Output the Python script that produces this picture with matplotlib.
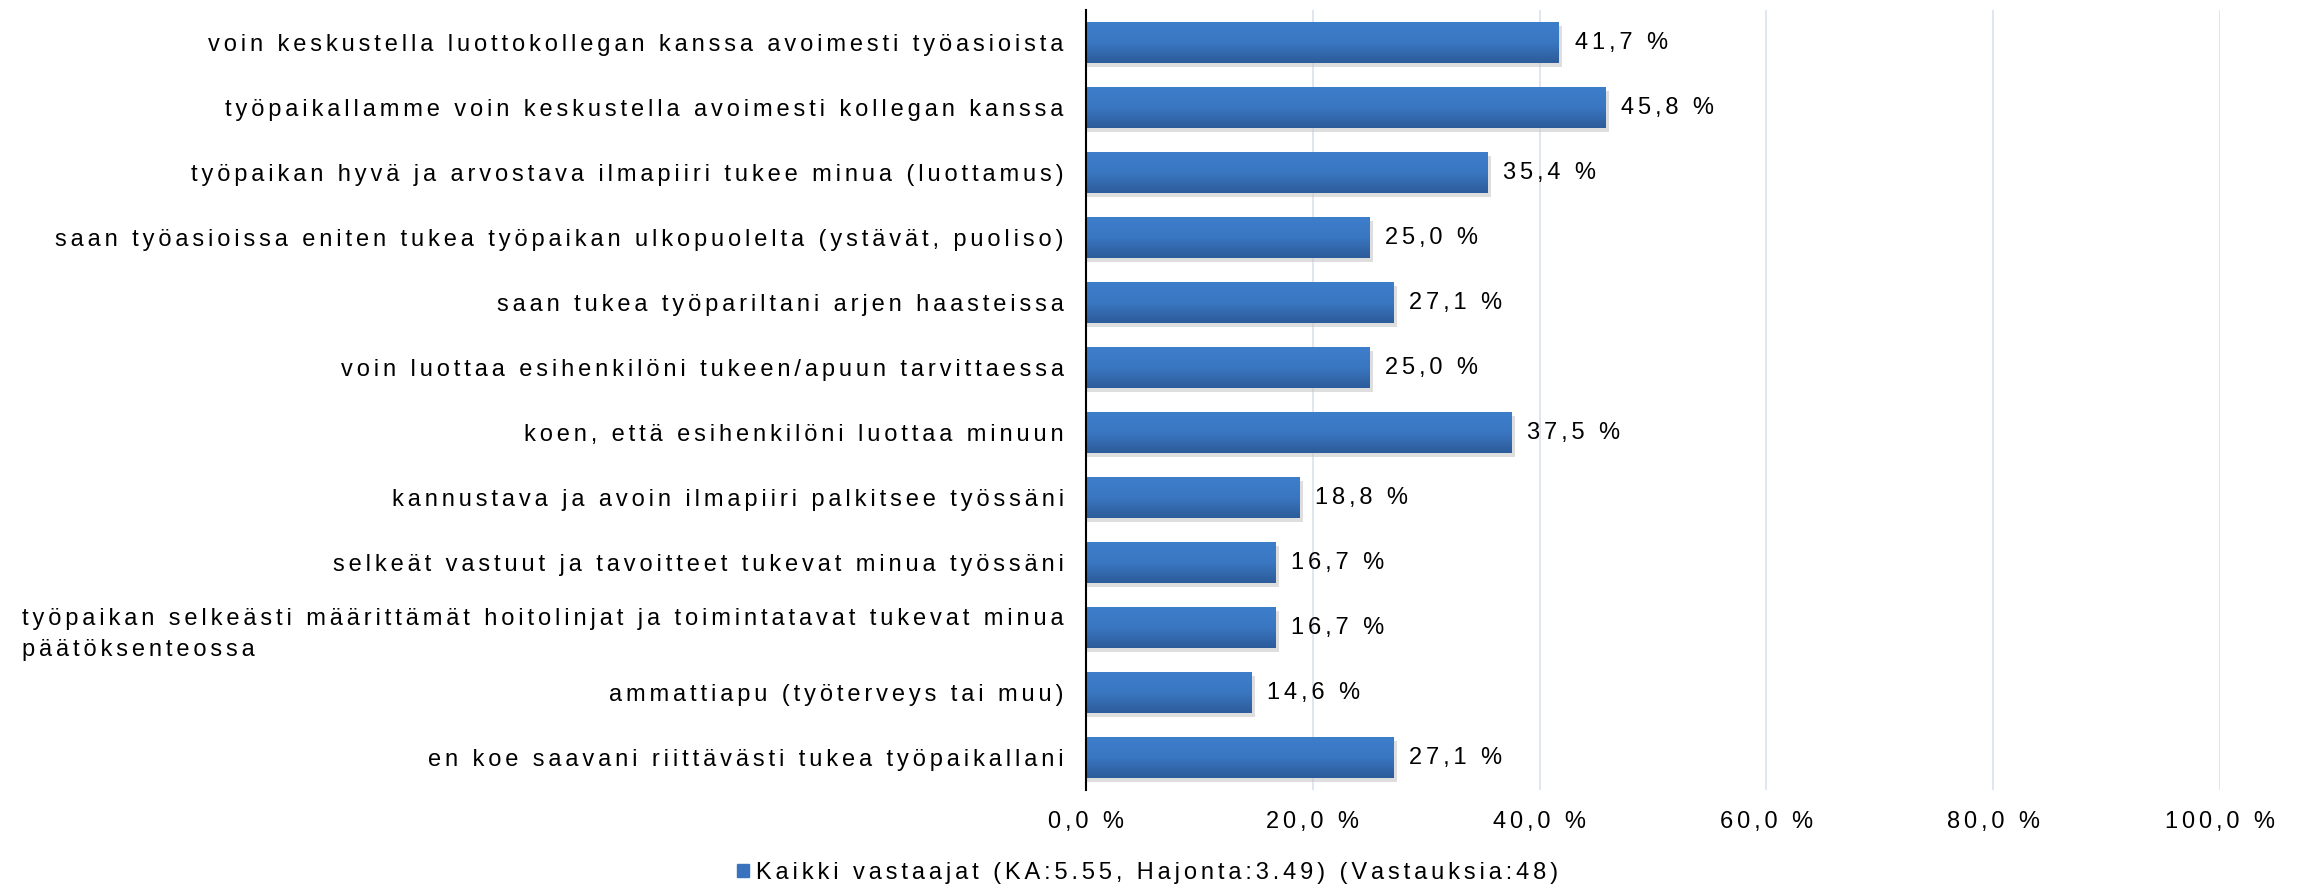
import matplotlib
matplotlib.use('Agg')
import matplotlib.pyplot as plt
import numpy as np
from matplotlib.colors import LinearSegmentedColormap

plt.rcParams['font.family'] = ['Liberation Sans', 'DejaVu Sans']

# data
labels = [
    "voin keskustella luottokollegan kanssa avoimesti työasioista",
    "työpaikallamme voin keskustella avoimesti kollegan kanssa",
    "työpaikan hyvä ja arvostava ilmapiiri tukee minua (luottamus)",
    "saan työasioissa eniten tukea työpaikan ulkopuolelta (ystävät, puoliso)",
    "saan tukea työpariltani arjen haasteissa",
    "voin luottaa esihenkilöni tukeen/apuun tarvittaessa",
    "koen, että esihenkilöni luottaa minuun",
    "kannustava ja avoin ilmapiiri palkitsee työssäni",
    "selkeät vastuut ja tavoitteet tukevat minua työssäni",
    "työpaikan selkeästi määrittämät hoitolinjat ja toimintatavat tukevat minua\npäätöksenteossa",
    "ammattiapu (työterveys tai muu)",
    "en koe saavani riittävästi tukea työpaikallani",
]
values = [41.7, 45.8, 35.4, 25.0, 27.1, 25.0, 37.5, 18.8, 16.7, 16.7, 14.6, 27.1]
ticks = [0, 20, 40, 60, 80, 100]
legend_label = "Kaikki vastaajat (KA:5.55, Hajonta:3.49) (Vastauksia:48)"


def spaced(s):
    # the original chart uses wide letter spacing; emulate it with six-per-em spaces
    return '\n'.join('\u2006'.join(line) for line in s.split('\n'))


def pct(v):
    return f"{v:.1f} %".replace('.', ',')


FS = 17

fig = plt.figure(figsize=(23.08, 8.91), dpi=100)
ax = fig.add_axes([1086/2308, 1 - 790/891, (2220-1086)/2308, (790-10)/891])

n = len(labels)
ypos = np.arange(n)
h = 0.64
grad = LinearSegmentedColormap.from_list('g', ['#3d7ecb', '#3a77c2', '#2d5c9a'])
img = np.linspace(0, 1, 50).reshape(-1, 1)

for y, v in zip(ypos, values):
    # soft shadow
    ax.barh(y + 0.06, v + 0.3, height=h, color='#c8c8c8', alpha=0.6, zorder=2)
    im = ax.imshow(img, cmap=grad, aspect='auto', extent=(0, v, y + h/2, y - h/2),
                   origin='upper', zorder=3)
    b = ax.barh(y, v, height=h, color='none', zorder=4)
    im.set_clip_path(b.patches[0])
    ax.text(v + 1.4, y, spaced(pct(v)), va='center', ha='left', fontsize=FS)

ax.set_xlim(0, 100)
ax.set_ylim(n - 0.5, -0.5)
ax.set_yticks(ypos)
ax.set_yticklabels([spaced(l) for l in labels], fontsize=FS, multialignment='left',
                   linespacing=1.5)
ax.set_xticks(ticks)
ax.set_xticklabels([spaced(pct(t)) for t in ticks], fontsize=FS)
ax.tick_params(length=0)
ax.tick_params(axis='y', pad=16)
ax.tick_params(axis='x', pad=15)
for s in ['top', 'right', 'bottom']:
    ax.spines[s].set_visible(False)
ax.spines['left'].set_color('black')
ax.spines['left'].set_linewidth(1.5)
ax.spines['left'].set_zorder(5)
ax.grid(axis='x', color='#d9e2ec', linewidth=1.2, zorder=0)
ax.set_axisbelow(True)

handle = plt.Rectangle((0, 0), 1, 1, color='#3a73bd')
fig.legend([handle], [spaced(legend_label)], loc='center', bbox_to_anchor=(1148/2308, 1 - 873/891),
           frameon=False, fontsize=FS, handlelength=0.5, handleheight=0.5, handletextpad=0.3)

fig.savefig('out.png', dpi=100)
plt.close(fig)
